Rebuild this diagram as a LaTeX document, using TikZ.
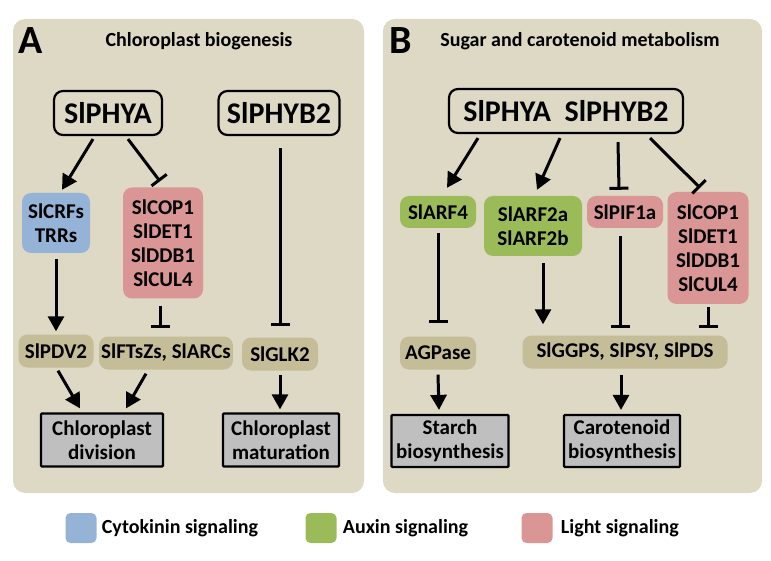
\documentclass[tikz,border=0pt]{standalone}
\usepackage{fontspec}
\setmainfont{Carlito}
\usetikzlibrary{arrows.meta,positioning}
\definecolor{panelbg}{RGB}{221,217,196}
\definecolor{tanbg}{RGB}{196,189,151}
\definecolor{bluebg}{RGB}{149,179,215}
\definecolor{greenbg}{RGB}{155,187,89}
\definecolor{pinkbg}{RGB}{218,150,148}
\definecolor{graybg}{RGB}{191,191,191}
\tikzset{
  panel/.style={fill=panelbg, rounded corners=12pt},
  phy/.style={draw, line width=2.2pt, rounded corners=9pt, fill=panelbg, inner sep=0pt,
    font=\fontsize{30}{32}\selectfont\bfseries},
  gene/.style={rounded corners=9pt, inner sep=0pt, align=center,
    font=\fontsize{21}{24}\selectfont\bfseries},
  tanbox/.style={gene, fill=tanbg},
  bluebox/.style={gene, fill=bluebg},
  greenbox/.style={gene, fill=greenbg},
  pinkbox/.style={gene, fill=pinkbg},
  outcome/.style={draw, line width=2.2pt, fill=graybg, inner sep=0pt, align=center,
    rounded corners=1pt, font=\fontsize{21}{24}\selectfont\bfseries},
  legsq/.style={rounded corners=5pt, minimum width=31pt, minimum height=30pt, inner sep=0pt},
  legtxt/.style={inner sep=0pt, font=\fontsize{20}{24}\selectfont\bfseries},
  act/.style={line width=3pt, -{Triangle[length=15pt,width=16pt]}},
  inh/.style={line width=3pt, -{Bar[width=19pt,line width=3pt]}}
}
\begin{document}
\begin{tikzpicture}[x=1pt,y=-1pt]
\useasboundingbox (0,0) rectangle (771,561);

%Panels
\fill[panel] (13,19) rectangle (364,493);
\fill[panel] (383,19) rectangle (762,493);

% Panel A
\node[inner sep=0pt, font=\fontsize{40}{40}\selectfont\bfseries] (labA) at (31,41) {A};
\node[inner sep=0pt, font=\fontsize{20}{22}\selectfont\bfseries] (titA) at (199,41) {Chloroplast biogenesis};

\node[phy, minimum width=108pt, minimum height=44pt] (phyaA) at (108,113) {SlPHYA};
\node[phy, minimum width=121pt, minimum height=44pt] (phyb2A) at (279,113) {SlPHYB2};
\node[bluebox, minimum width=68pt, minimum height=60pt] (crfs) at (56,223) {SlCRFs\\TRRs};
\node[pinkbox, minimum width=80pt, minimum height=111pt] (copA) at (163,243) {SlCOP1\\SlDET1\\SlDDB1\\SlCUL4};
\node[tanbox, minimum width=75pt, minimum height=33pt] (pdv) at (56,351) {SlPDV2};
\node[tanbox, minimum width=134pt, minimum height=33pt] (ftsz) at (166,353) {SlFTsZs, SlARCs};
\node[tanbox, minimum width=76pt, minimum height=33pt] (glk) at (280,354) {SlGLK2};
\node[outcome, minimum width=122pt, minimum height=53pt] (divA) at (102,440) {Chloroplast\\division};
\node[outcome, minimum width=116pt, minimum height=53pt] (matA) at (281,440) {Chloroplast\\maturation};

\draw[act] ([xshift=-15pt,yshift=-3pt]phyaA.south) -- ([xshift=6pt,yshift=3pt]crfs.north);
\draw[inh] ([xshift=20pt,yshift=-3pt]phyaA.south) -- ([xshift=-3pt,yshift=6pt]copA.north);
\draw[inh] ([xshift=1pt,yshift=-12pt]phyb2A.south) -- ([yshift=11pt]glk.north);
\draw[act] ([yshift=-6pt]crfs.south) -- ([yshift=3pt]pdv.north);
\draw[inh] ([xshift=-3pt,yshift=-7pt]copA.south) -- ([xshift=-6pt,yshift=8pt]ftsz.north);
\draw[act] ([xshift=2pt,yshift=-3pt]pdv.south) -- ([xshift=-22pt,yshift=4pt]divA.north);
\draw[act] ([xshift=-20pt,yshift=-4pt]ftsz.south) -- ([xshift=24pt,yshift=4pt]divA.north);
\draw[act] ([yshift=-4pt]glk.south) -- ([xshift=-1pt,yshift=3pt]matA.north);

% Panel B
\node[inner sep=0pt, font=\fontsize{40}{40}\selectfont\bfseries] (labB) at (401,41) {B};
\node[inner sep=0pt, font=\fontsize{20}{22}\selectfont\bfseries] (titB) at (580,41) {Sugar and carotenoid metabolism};

\node[phy, minimum width=234pt, minimum height=44pt] (phyB) at (566,111) {SlPHYA\ \ SlPHYB2};
\node[greenbox, minimum width=76pt, minimum height=32pt] (arf4) at (438,212) {SlARF4};
\node[greenbox, minimum width=98pt, minimum height=60pt] (arf2) at (533,226) {SlARF2a\\SlARF2b};
\node[pinkbox, minimum width=76pt, minimum height=32pt] (pif) at (625,212) {SlPIF1a};
\node[pinkbox, minimum width=81pt, minimum height=112pt] (copB) at (708,248) {SlCOP1\\SlDET1\\SlDDB1\\SlCUL4};
\node[tanbox, minimum width=76pt, minimum height=33pt] (agp) at (438,353) {AGPase};
\node[tanbox, minimum width=205pt, minimum height=33pt] (ggps) at (625,352) {SlGGPS, SlPSY, SlPDS};
\node[outcome, minimum width=117pt, minimum height=52pt] (starch) at (450,441) {Starch\\biosynthesis};
\node[outcome, minimum width=116pt, minimum height=52pt] (carot) at (622,441) {Carotenoid\\biosynthesis};

\draw[act] ([xshift=-88pt,yshift=-4pt]phyB.south) -- ([xshift=9pt,yshift=8pt]arf4.north);
\draw[act] ([xshift=-6pt,yshift=-4pt]phyB.south) -- ([xshift=4pt,yshift=6pt]arf2.north);
\draw[inh] ([xshift=52pt,yshift=-8pt]phyB.south) -- ([xshift=-6pt,yshift=6pt]pif.north);
\draw[inh] ([xshift=84pt,yshift=-4pt]phyB.south) -- ([xshift=-8pt,yshift=4pt]copB.north);
\draw[inh] ([yshift=-5pt]arf4.south) -- ([yshift=13pt]agp.north);
\draw[act] ([xshift=10pt,yshift=-7pt]arf2.south) -- ([xshift=-82pt,yshift=11pt]ggps.north);
\draw[inh] ([xshift=-5pt,yshift=-8pt]pif.south) -- ([xshift=-5pt,yshift=7pt]ggps.north);
\draw[inh] ([yshift=-3pt]copB.south) -- ([xshift=83pt,yshift=7pt]ggps.north);
\draw[act] ([yshift=-5pt]agp.south) -- ([xshift=-11pt,yshift=4pt]starch.north);
\draw[act] ([xshift=-4pt,yshift=-6pt]ggps.south) -- ([xshift=-1pt,yshift=4pt]carot.north);

% Legend
\node[legsq, fill=bluebg] (sqcyto) at (81,528) {};
\node[legtxt, right=5pt of sqcyto] (txcyto) {Cytokinin signaling};
\node[legsq, fill=greenbg] (sqaux) at (321,528) {};
\node[legtxt, right=6pt of sqaux] (txaux) {Auxin signaling};
\node[legsq, fill=pinkbg] (sqlight) at (537,528) {};
\node[legtxt, right=8pt of sqlight] (txlight) {Light signaling};

\end{tikzpicture}
\end{document}
